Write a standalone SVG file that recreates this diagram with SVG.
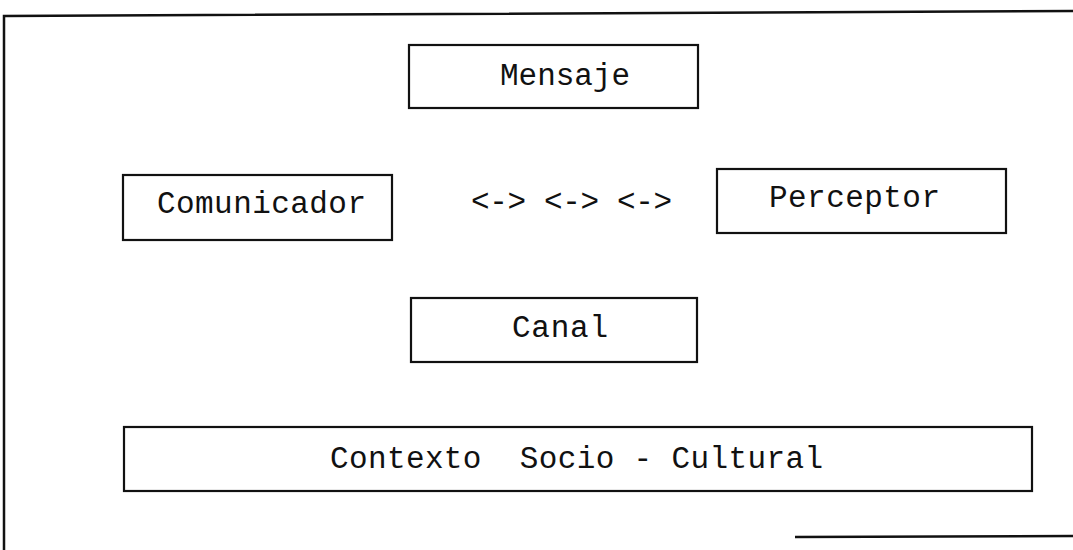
<svg xmlns="http://www.w3.org/2000/svg" width="1073" height="550" viewBox="0 0 1073 550">
<style>
.box{fill:none;stroke:#111;stroke-width:2.2}
.frame{fill:none;stroke:#111;stroke-width:2.5}
.t{font-family:"Liberation Mono","DejaVu Sans Mono",monospace;font-size:31px;fill:#111}
</style>
<rect width="1073" height="550" fill="#fff"/>
<g id="frame">
<path class="frame" d="M4,550 L4,16 L1073,11"/>
<path class="frame" d="M795,537 L1073,536" stroke="#333" stroke-width="2"/>
</g>
<g id="mensaje">
<rect class="box" x="409" y="45" width="289" height="63"/>
<text class="t" x="500" y="85" textLength="130">Mensaje</text>
</g>
<g id="comunicador">
<rect class="box" x="123" y="175" width="269" height="65"/>
<text class="t" x="157" y="213" textLength="209">Comunicador</text>
</g>
<g id="connectors">
<text class="t" x="471" y="211" textLength="201">&lt;-&gt; &lt;-&gt; &lt;-&gt;</text>
</g>
<g id="perceptor">
<rect class="box" x="717" y="169" width="289" height="64"/>
<text class="t" x="769" y="207" textLength="171">Perceptor</text>
</g>
<g id="canal">
<rect class="box" x="411" y="298" width="286" height="64"/>
<text class="t" x="512" y="337" textLength="96">Canal</text>
</g>
<g id="contexto">
<rect class="box" x="124" y="427" width="908" height="64"/>
<text class="t" x="330" y="468" textLength="493" xml:space="preserve">Contexto  Socio - Cultural</text>
</g>
</svg>
